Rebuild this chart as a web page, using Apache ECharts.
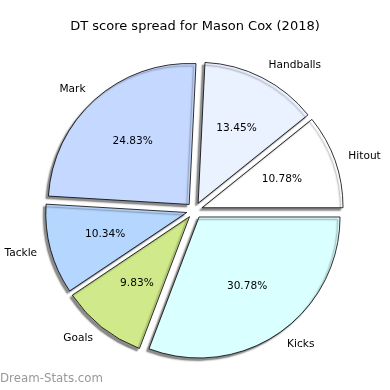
<!DOCTYPE html>
<html><head><meta charset="utf-8">
<script src="https://cdn.jsdelivr.net/npm/echarts@6/dist/echarts.min.js"></script>
<style>html,body{margin:0;padding:0;background:#fff}#c{width:390px;height:390px}</style>
</head><body><div id="c"></div>
<script>
const categories = ['Hitout', 'Handballs', 'Mark', 'Tackle', 'Goals', 'Kicks'];
const values = [10.78, 13.45, 24.83, 10.34, 9.83, 30.78];
const colors = ['#ffffff', '#eaf1ff', '#c5d8ff', '#b5d6ff', '#d0ea8b', '#d9ffff'];
const titleText = 'DT score spread for Mason Cox (2018)';
const watermark = 'Dream-Stats.com';

const R = 141, CX = 194.5, CY = 210.4, OFF = 8;
const FONT = 'DejaVu Sans';
const itemStyle = {borderColor: '#000', borderWidth: 0.8, shadowColor: 'rgba(0,0,0,0.45)', shadowBlur: 1.5, shadowOffsetX: -2.5, shadowOffsetY: 2.5};

const chart = echarts.init(document.getElementById('c'), null, {renderer: 'canvas'});
chart.setOption({
  animation: false,
  backgroundColor: '#fff',
  title: {text: titleText, left: 'center', top: 20, padding: 0,
    textStyle: {fontSize: 13, fontWeight: 'normal', fontFamily: FONT, color: '#000'}},
  graphic: [{type: 'text', left: 0, top: 373,
    style: {text: watermark, fontSize: 11.8, fontFamily: FONT, fontWeight: 'normal', fill: '#999999'}}],
  series: [
    {
      type: 'pie', center: [CX, CY], radius: [0, R], startAngle: 0, clockwise: false,
      selectedMode: 'multiple', selectedOffset: OFF, avoidLabelOverlap: false,
      emphasis: {disabled: true}, silent: true,
      itemStyle: itemStyle,
      select: {itemStyle: itemStyle, label: {color: '#000'}},
      label: {show: true, position: 'outside', formatter: '{b}', color: '#000', fontSize: 10.6,
        fontFamily: FONT, distanceToLabelLine: 0, alignTo: 'none', padding: [2, 0, 0, 0]},
      labelLine: {show: false, length: R * 0.1, length2: 0},
      data: categories.map((n, i) => ({name: n, value: values[i], selected: true, itemStyle: {color: colors[i]}}))
    },
    {
      type: 'pie', center: [CX, CY], radius: [50, 129.2], startAngle: 0, clockwise: false,
      silent: true, emphasis: {disabled: true}, avoidLabelOverlap: false,
      itemStyle: {color: 'rgba(0,0,0,0)', borderWidth: 0},
      label: {show: true, position: 'inside', formatter: '{c}%', color: '#000', fontSize: 10.6, fontFamily: FONT},
      labelLine: {show: false},
      data: categories.map((n, i) => ({name: n, value: values[i]}))
    }
  ]
});
</script></body></html>
